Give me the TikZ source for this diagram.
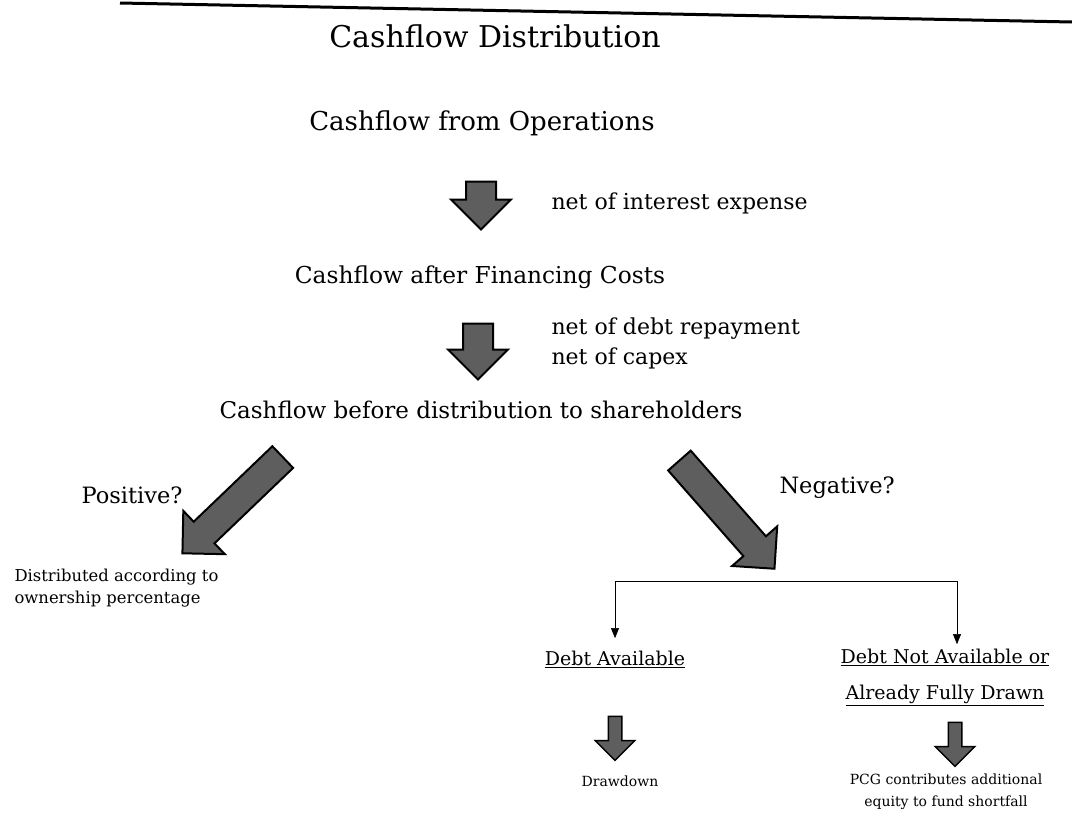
\documentclass[tikz,border=0pt]{standalone}
\usepackage{fontspec}
\setmainfont{DejaVu Serif}
\usetikzlibrary{positioning,arrows.meta,shapes.arrows}
\definecolor{flowGris}{HTML}{5E5E5E}

\begin{document}
\begin{tikzpicture}[x=1pt,y=-1pt,
      fat/.style={single arrow, draw=black, line width=2pt, fill=flowGris,
                  inner xsep=0pt, inner ysep=14pt, single arrow head extend=15pt},
      tiny/.style={single arrow, draw=black, line width=1.5pt, fill=flowGris,
                   inner xsep=0pt, inner ysep=6pt, minimum height=44pt,
                   single arrow head extend=13pt},
      stage/.style={font=\fontsize{#1}{#1}\selectfont},
      note/.style={anchor=west, align=left, font=\fontsize{22}{30}\selectfont},
      small/.style={align=center, font=\fontsize{#1}{22}\selectfont},
      every node/.style={align=center}]
    \useasboundingbox (0,0) rectangle (1072,817);
    \draw[line width=3pt] (120,3) -- (1072,22);

    \node[stage=30]   (title) at (495,36)  {Cashflow Distribution};
    \node[stage=26]   (ops)   at (482,123) {Cashflow from Operations};
    \node[stage=23.3] (fin)   at (480,277) {Cashflow after Financing Costs};
    \node[stage=23]   (pre)   at (481,410) {Cashflow before distribution to shareholders};

    % flow arrows
    \node[fat, minimum height=48pt, rotate=-90] (a1) at (481,198) {};
    \node[note] (n1) at (548,203) {net of interest expense};
    \node[fat, minimum height=56pt, rotate=-90] (a2) at (478,344) {};
    \node[note] (n2) at (548,343) {net of debt repayment\\net of capex};

    % split on the sign
    \node[fat, minimum height=139pt, rotate=223.8] (apos) at (238,500) {};
    \node[stage=22.5, anchor=east] (pos) at (186,495) {Positive?};
    \node[fat, minimum height=144pt, rotate=-48.7] (aneg) at (722,509) {};
    \node[stage=22.5, anchor=west] (neg) at (776,488) {Negative?};

    \node[small=16.4, anchor=west, align=left] (dist) at (11,588)
         {Distributed according to\\ownership percentage};

    \coordinate (split) at (786,581);
    \node[font=\fontsize{19}{36}\selectfont] (avail) at (615,659)
         {\underline{Debt Available}};
    \node[font=\fontsize{19}{36}\selectfont] (notav) at (945,677)
         {\underline{Debt Not Available or}\\\underline{Already Fully Drawn}};
    \draw[thin, -{Triangle[width=8pt,length=10pt]}, shorten >=9pt]
         (split) -| (avail.north);
    \draw[thin, -{Triangle[width=8pt,length=10pt]}, shorten >=1pt]
         (split) -| ([xshift=12pt]notav.north);

    \node[tiny, rotate=-90] (ad) at (615,735) {};
    \node[tiny, rotate=-90] (an) at (955,741) {};
    \node[small=14] (draw) at (620,781) {Drawdown};
    \node[small=14] (pcg)  at (946,792)
         {PCG contributes additional\\equity to fund shortfall};
  \end{tikzpicture}
\end{document}
